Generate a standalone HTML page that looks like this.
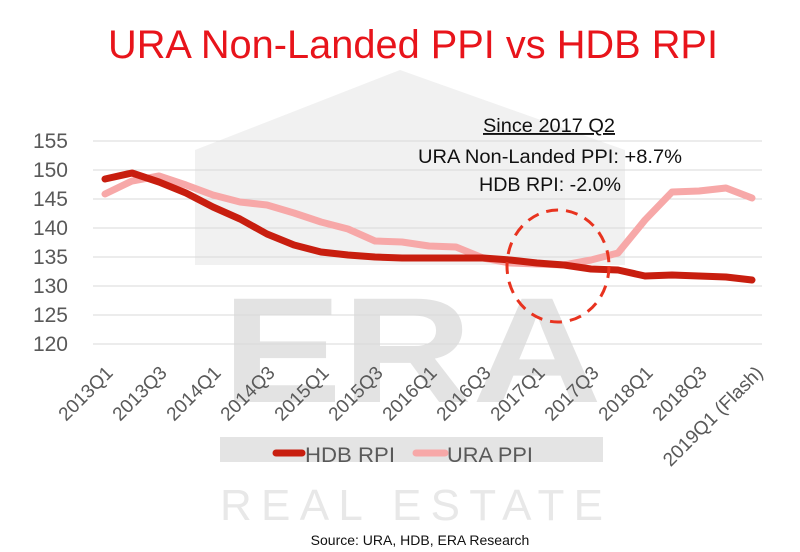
<!DOCTYPE html>
<html><head><meta charset="utf-8"><style>
html,body{margin:0;padding:0;background:#fff;}
svg{display:block;font-family:"Liberation Sans",sans-serif;}
</style></head><body>
<svg width="800" height="552" viewBox="0 0 800 552" xmlns="http://www.w3.org/2000/svg">
<rect width="800" height="552" fill="#fff"/>
<polygon points="195,150 400,70 625,150 625,265 195,265" fill="#f1f1f1"/>
<text x="222" y="402" font-size="150" font-weight="bold" fill="#e3e3e3" textLength="380" lengthAdjust="spacingAndGlyphs">ERA</text>
<rect x="220" y="437" width="383" height="25" fill="#e4e4e4"/>
<text x="220" y="520" font-size="44" fill="#e8e8e8" textLength="383" lengthAdjust="spacing">REAL ESTATE</text>
<text x="413" y="58" font-size="40" fill="#e8141b" text-anchor="middle" textLength="610" lengthAdjust="spacingAndGlyphs">URA Non-Landed PPI vs HDB RPI</text>
<g stroke="#d9d9d9" stroke-width="1">
<line x1="93" y1="141" x2="762" y2="141"/><line x1="93" y1="170" x2="762" y2="170"/>
<line x1="93" y1="199" x2="762" y2="199"/><line x1="93" y1="228" x2="762" y2="228"/>
<line x1="93" y1="257" x2="762" y2="257"/><line x1="93" y1="286" x2="762" y2="286"/>
<line x1="93" y1="315" x2="762" y2="315"/><line x1="93" y1="344" x2="762" y2="344"/>
</g>
<g font-size="21" fill="#595959" text-anchor="end">
<text x="68" y="148">155</text><text x="68" y="177">150</text><text x="68" y="206">145</text>
<text x="68" y="235">140</text><text x="68" y="264">135</text><text x="68" y="293">130</text>
<text x="68" y="322">125</text><text x="68" y="351">120</text>
</g>
<g font-size="19" fill="#595959" text-anchor="end">
<text transform="translate(114,374) rotate(-45)">2013Q1</text>
<text transform="translate(168,374) rotate(-45)">2013Q3</text>
<text transform="translate(222,374) rotate(-45)">2014Q1</text>
<text transform="translate(276,374) rotate(-45)">2014Q3</text>
<text transform="translate(330,374) rotate(-45)">2015Q1</text>
<text transform="translate(384,374) rotate(-45)">2015Q3</text>
<text transform="translate(438,374) rotate(-45)">2016Q1</text>
<text transform="translate(492,374) rotate(-45)">2016Q3</text>
<text transform="translate(546,374) rotate(-45)">2017Q1</text>
<text transform="translate(600,374) rotate(-45)">2017Q3</text>
<text transform="translate(654,374) rotate(-45)">2018Q1</text>
<text transform="translate(708,374) rotate(-45)">2018Q3</text>
<text transform="translate(764,374) rotate(-45)">2019Q1 (Flash)</text>
</g>
<polyline fill="none" stroke="#f7a8a8" stroke-width="7" stroke-linejoin="round" stroke-linecap="round"
points="105,194 132,181 159,176 186,185 213,195 240,202 267,205 294,213 321,222 348,229 375,241 402,242 429,246 456,247 483,258 510,263 537,264 564,265 591,260 618,253 645,220 672,192 699,191 726,188 752,198"/>
<polyline fill="none" stroke="#c81e0f" stroke-width="7" stroke-linejoin="round" stroke-linecap="round"
points="105,179 132,173 159,182 186,193 213,207 240,219 267,234 294,245 321,252 348,255 375,257 402,258 429,258 456,258 483,258 510,260 537,263 564,265 591,269 618,270 645,276 672,275 699,276 726,277 752,280"/>
<ellipse cx="558" cy="266" rx="51" ry="56" fill="none" stroke="#e8331f" stroke-width="3" stroke-dasharray="12,8"/>
<g font-size="19" fill="#111" text-anchor="middle">
<text x="549" y="132" text-decoration="underline" textLength="132" lengthAdjust="spacingAndGlyphs">Since 2017 Q2</text>
<text x="550" y="163" textLength="264" lengthAdjust="spacingAndGlyphs">URA Non-Landed PPI: +8.7%</text>
<text x="550" y="191" textLength="142" lengthAdjust="spacingAndGlyphs">HDB RPI: -2.0%</text>
</g>
<line x1="276" y1="453" x2="302" y2="453" stroke="#c81e0f" stroke-width="7" stroke-linecap="round"/>
<text x="305" y="462" font-size="21" fill="#595959" textLength="90" lengthAdjust="spacingAndGlyphs">HDB RPI</text>
<line x1="416" y1="453" x2="445" y2="453" stroke="#f7a8a8" stroke-width="7" stroke-linecap="round"/>
<text x="447" y="462" font-size="21" fill="#595959" textLength="86" lengthAdjust="spacingAndGlyphs">URA PPI</text>
<text x="420" y="545" font-size="14" fill="#111" text-anchor="middle">Source: URA, HDB, ERA Research</text>
</svg>
</body></html>
